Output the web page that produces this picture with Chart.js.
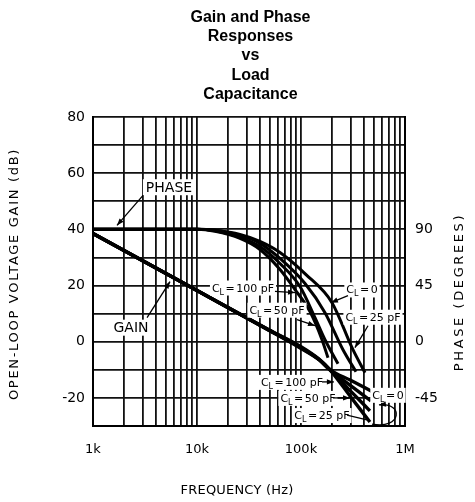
<!DOCTYPE html>
<html><head><meta charset="utf-8">
<script src="https://cdn.jsdelivr.net/npm/chart.js@4"></script>
<style>html,body{margin:0;padding:0;background:#fff}#wrap{width:475px;height:502px;position:relative}</style>
</head><body><div id="wrap"><canvas id="c"></canvas></div>
<script>
// ---------- data ----------
const titleLines = ['Gain and Phase', 'Responses', 'vs', 'Load', 'Capacitance'];
const xTickLabels = {1000: '1k', 10000: '10k', 100000: '100k', 1000000: '1M'};
const xGridValues = [1000,2000,3000,4000,5000,6000,7000,8000,9000,
                     10000,20000,30000,40000,50000,60000,70000,80000,90000,
                     100000,200000,300000,400000,500000,600000,700000,800000,900000,1000000];
const gainTickValues = [-20, 0, 20, 40, 60, 80];
const phaseTickValues = [-45, 0, 45, 90];

// open-loop gain (dB)
const gainFreq100 = [1000, 10000, 50000, 100000, 150000, 190000, 300000, 460000];
const gain100     = [38.5, 18.2, 4.1, -1.8, -6.3, -10, -19.6, -28.6];
const gainFreq50  = [1000, 10000, 50000, 100000, 150000, 190000, 300000, 460000];
const gain50      = [38.5, 18.2, 4.0, -2.0, -6.4, -10, -17.6, -24.6];
const gainFreq25  = [1000, 10000, 50000, 100000, 150000, 190000, 300000, 471000];
const gain25      = [38.5, 18.2, 4.0, -2.2, -6.4, -10, -15.6, -21.1];
const gainFreq0   = [1000, 10000, 50000, 100000, 150000, 190000, 300000, 492000];
const gain0       = [38.5, 18.2, 3.9, -2.4, -6.5, -10, -13.75, -17.9];

// phase (degrees)
const phaseFreq100 = [1000, 10000, 14900, 25900, 40300, 62800, 87600, 122000, 159200, 181800];
const phase100     = [90, 90, 88.4, 82.8, 73.9, 57.9, 41.8, 24.1, 1.6, -12.9];
const phaseFreq50  = [1000, 10000, 14900, 25900, 40300, 62800, 97800, 136300, 170100, 226900];
const phase50      = [90, 90, 88.8, 83.6, 76.3, 62.7, 44.2, 19.3, 1.6, -17.7];
const phaseFreq25  = [1000, 10000, 14900, 25900, 40300, 62800, 109300, 170100, 253400, 338000];
const phase25      = [90, 90, 89.2, 85.2, 78.8, 66.7, 46.6, 23.3, -6.4, -24.1];
const phaseFreq0   = [1000, 10000, 14900, 25900, 40300, 62800, 111700, 198600, 316000, 412600];
const phase0       = [90, 90, 89.2, 86.0, 80.4, 71.5, 53.8, 31.3, -6.4, -24.9];

// ---------- helpers ----------
const pts = (xs, ys) => xs.map((v, i) => ({x: v, y: ys[i]}));
const gainDS = (label, xs, ys) => ({label, data: pts(xs, ys), yAxisID: 'y', borderColor: '#000',
  borderWidth: 3.4, pointRadius: 0, cubicInterpolationMode: 'monotone', fill: false});
const phaseDS = (label, xs, ys) => ({label, data: pts(xs, ys), yAxisID: 'y2', borderColor: '#000',
  borderWidth: 3, pointRadius: 0, cubicInterpolationMode: 'monotone', fill: false});

// annotations in data coordinates (frequency Hz, gain dB)
const annotations = [
  {type: 'text', text: 'PHASE', at: [5380, 55.0]},
  {type: 'arrow', from: [3030, 52.1], to: [1700, 41.4]},
  {type: 'text', text: 'GAIN', at: [2320, 5.0]},
  {type: 'arrow', from: [3310, 8.6], to: [5500, 21.4]},
  {type: 'cl', rest: '100 pF', at: [27700, 19.3]},
  {type: 'arrow', from: [56200, 17.9], to: [87600, 17.5]},
  {type: 'cl', rest: '50 pF', at: [58800, 11.4]},
  {type: 'arrow', from: [91500, 7.9], to: [136300, 5.7]},
  {type: 'cl', rest: '0', at: [385900, 18.6]},
  {type: 'arrow', from: [283000, 16.4], to: [194000, 13.9]},
  {type: 'cl', rest: '25 pF', at: [492000, 8.9]},
  {type: 'arrow', from: [441000, 5.7], to: [330000, -2.1]},
  {type: 'cl', rest: '100 pF', at: [81900, -14.3]},
  {type: 'arrow', from: [159000, -14.3], to: [207000, -14.3]},
  {type: 'cl', rest: '50 pF', at: [116700, -20]},
  {type: 'arrow', from: [203000, -20], to: [296000, -20]},
  {type: 'cl', rest: '25 pF', at: [159000, -26.1]},
  {type: 'line', from: [277000, -26.1], to: [441000, -27.9]},
  {type: 'cl', rest: '0', at: [686000, -18.9]},
  {type: 'loop', pts: [[481600, -29.3], [935000, -31.4], [980000, -21.4], [562000, -22.5]]}
];

const FONT = '"DejaVu Sans", sans-serif';

function arrowHead(ctx, x0, y0, x1, y1) {
  const a = Math.atan2(y1 - y0, x1 - x0), L = 7, W = 2.6;
  ctx.beginPath();
  ctx.moveTo(x1, y1);
  ctx.lineTo(x1 - L * Math.cos(a) + W * Math.sin(a), y1 - L * Math.sin(a) - W * Math.cos(a));
  ctx.lineTo(x1 - L * Math.cos(a) - W * Math.sin(a), y1 - L * Math.sin(a) + W * Math.cos(a));
  ctx.closePath(); ctx.fill();
}

function drawCL(ctx, cx, cy, rest) {
  const big = '11px ' + FONT, small = '8px ' + FONT;
  ctx.font = big; const wC = ctx.measureText('C').width;
  ctx.font = small; const wL = ctx.measureText('L').width;
  ctx.font = big; const wEq = ctx.measureText('=').width; const wR = ctx.measureText(rest).width;
  const gap = 1.5, W = wC + wL + gap + wEq + gap + wR, x0 = cx - W / 2;
  ctx.fillStyle = '#fff'; ctx.fillRect(x0 - 2, cy - 7, W + 4, 15);
  ctx.fillStyle = '#000'; ctx.textAlign = 'left'; ctx.textBaseline = 'alphabetic';
  const base = cy + 4;
  ctx.font = big; ctx.fillText('C', x0, base);
  ctx.font = small; ctx.fillText('L', x0 + wC, base + 3);
  ctx.font = big; ctx.fillText('=', x0 + wC + wL + gap, base);
  ctx.fillText(rest, x0 + wC + wL + gap + wEq + gap, base);
}

const annPlugin = {
  id: 'ann',
  afterDatasetsDraw(chart) {
    const {ctx} = chart, x = chart.scales.x, y = chart.scales.y;
    const P = p => [x.getPixelForValue(p[0]), y.getPixelForValue(p[1])];
    ctx.save();
    ctx.strokeStyle = '#000'; ctx.fillStyle = '#000'; ctx.lineWidth = 1.3;
    for (const a of annotations) {
      if (a.type === 'text') {
        const [px, py] = P(a.at);
        ctx.font = '14px ' + FONT;
        const w = ctx.measureText(a.text).width;
        ctx.fillStyle = '#fff'; ctx.fillRect(px - w / 2 - 3, py - 8, w + 6, 16);
        ctx.fillStyle = '#000'; ctx.textAlign = 'center'; ctx.textBaseline = 'middle';
        ctx.fillText(a.text, px, py + 1);
      } else if (a.type === 'cl') {
        const [px, py] = P(a.at);
        drawCL(ctx, px, py, a.rest);
      } else if (a.type === 'arrow' || a.type === 'line') {
        const [x0, y0] = P(a.from), [x1, y1] = P(a.to);
        ctx.beginPath(); ctx.moveTo(x0, y0); ctx.lineTo(x1, y1); ctx.stroke();
        if (a.type === 'arrow') arrowHead(ctx, x0, y0, x1, y1);
      } else if (a.type === 'loop') {
        const q = a.pts.map(P);
        ctx.beginPath(); ctx.moveTo(q[0][0], q[0][1]);
        ctx.bezierCurveTo(q[1][0], q[1][1], q[2][0], q[2][1], q[3][0], q[3][1]);
        ctx.stroke();
        arrowHead(ctx, q[2][0], q[2][1], q[3][0], q[3][1]);
      }
    }
    ctx.restore();
  },
  afterDraw(chart) {
    const {ctx} = chart;
    ctx.save();
    ctx.fillStyle = '#000'; ctx.textAlign = 'center'; ctx.textBaseline = 'middle';
    ctx.font = '13px ' + FONT;
    // left axis title
    ctx.save(); ctx.translate(15, 274); ctx.rotate(-Math.PI / 2);
    ctx.letterSpacing = '1.7px';
    ctx.fillText('OPEN-LOOP VOLTAGE GAIN (dB)', 0, 0); ctx.restore();
    // right axis title
    ctx.save(); ctx.translate(460, 292); ctx.rotate(-Math.PI / 2);
    ctx.letterSpacing = '2.6px';
    ctx.fillText('PHASE (DEGREES)', 0, 0); ctx.restore();
    // x axis title
    ctx.letterSpacing = '0.2px';
    ctx.fillText('FREQUENCY (Hz)', 237, 491);
    ctx.restore();
  }
};

new Chart(document.getElementById('c'), {
  type: 'line',
  data: {
    datasets: [
      phaseDS('Phase CL=100pF', phaseFreq100, phase100),
      phaseDS('Phase CL=50pF', phaseFreq50, phase50),
      phaseDS('Phase CL=25pF', phaseFreq25, phase25),
      phaseDS('Phase CL=0', phaseFreq0, phase0),
      gainDS('Gain CL=100pF', gainFreq100, gain100),
      gainDS('Gain CL=50pF', gainFreq50, gain50),
      gainDS('Gain CL=25pF', gainFreq25, gain25),
      gainDS('Gain CL=0', gainFreq0, gain0)
    ]
  },
  options: {
    responsive: true, maintainAspectRatio: false, animation: false,
    layout: {padding: {left: 26, right: 0, top: 0, bottom: 0}},
    plugins: {
      legend: {display: false}, tooltip: {enabled: false},
      title: {display: true, text: titleLines, color: '#000',
        font: {family: '"Liberation Sans", Arial, sans-serif', size: 16, weight: 'bold', lineHeight: 1.2},
        padding: {top: 8, bottom: 13}}
    },
    scales: {
      x: {
        type: 'logarithmic', min: 1000, max: 1000000,
        afterBuildTicks: s => { s.ticks = xGridValues.map(v => ({value: v})); },
        afterFit: s => { s.height = 76; },
        ticks: {autoSkip: false, maxRotation: 0, padding: 16, color: '#000',
          font: {family: FONT, size: 13},
          callback: v => xTickLabels[v] || ''},
        grid: {color: '#111', lineWidth: 1.8, drawTicks: false},
        border: {color: '#000', width: 2}
      },
      y: {
        type: 'linear', position: 'left', min: -30, max: 80,
        afterFit: s => { s.width = 67; },
        ticks: {stepSize: 10, padding: 8, color: '#000', font: {family: FONT, size: 14},
          callback: v => gainTickValues.includes(v) ? String(v) : ''},
        grid: {color: '#111', lineWidth: 1.8, drawTicks: false},
        border: {color: '#000', width: 2}
      },
      y2: {
        type: 'linear', position: 'right', min: -67.5, max: 180,
        afterBuildTicks: s => { s.ticks = phaseTickValues.map(v => ({value: v})); },
        afterFit: s => { s.width = 70; },
        ticks: {padding: 10, color: '#000', font: {family: FONT, size: 14},
          callback: v => String(v)},
        grid: {display: false, drawTicks: false},
        border: {color: '#000', width: 2}
      }
    }
  },
  plugins: [annPlugin]
});
</script>
</body></html>
